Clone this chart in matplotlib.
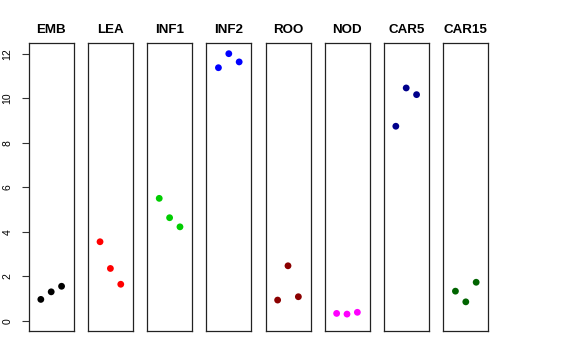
import matplotlib
matplotlib.use("Agg")
import matplotlib.pyplot as plt

plt.rcParams['font.family'] = ['Liberation Sans', 'DejaVu Sans']

tissues = ["EMB", "LEA", "INF1", "INF2", "ROO", "NOD", "CAR5", "CAR15"]
colors = ["black", "red", "#00CD00", "blue", "#8B0000", "magenta", "#00008B", "#006400"]
emb = [0.96, 1.30, 1.55]
lea = [3.55, 2.35, 1.64]
inf1 = [5.50, 4.63, 4.22]
inf2 = [11.37, 12.00, 11.63]
roo = [0.93, 2.47, 1.08]
nod = [0.33, 0.30, 0.38]
car5 = [8.74, 10.46, 10.16]
car15 = [1.33, 0.85, 1.73]
values = [emb, lea, inf1, inf2, roo, nod, car5, car15]
reps = [1, 2, 3]
yticks = [0, 2, 4, 6, 8, 10, 12]

W, H = 576, 360
fig = plt.figure(figsize=(W / 100, H / 100), dpi=100)

lefts = [28.7, 87.9, 147.1, 206.3, 265.5, 324.5, 383.7, 443.3]
pw = 45.0
top_px, bot_px = 43.0, 331.0

for i, (name, col, vals) in enumerate(zip(tissues, colors, values)):
    ax = fig.add_axes([lefts[i] / W, 1 - bot_px / H, pw / W, (bot_px - top_px) / H])
    ax.scatter(reps, vals, s=24, color=col, edgecolors='none', zorder=3)
    ax.set_xlim(2 - 2.17, 2 + 2.17)
    ax.set_ylim(-0.46, 12.48)
    ax.set_xticks([])
    for sp in ax.spines.values():
        sp.set_linewidth(0.9)
        sp.set_color('#222222')
    ax.set_title(name, fontsize=9.6, fontweight='bold', pad=7.5)
    if i == 0:
        ax.set_yticks(yticks)
        ax.set_yticklabels([str(t) for t in yticks], rotation=90, va='center', fontsize=7.5)
        ax.tick_params(axis='y', length=5.2, width=0.8, pad=6.5, color='#333333')
    else:
        ax.set_yticks([])

fig.savefig("out.png", dpi=100)
